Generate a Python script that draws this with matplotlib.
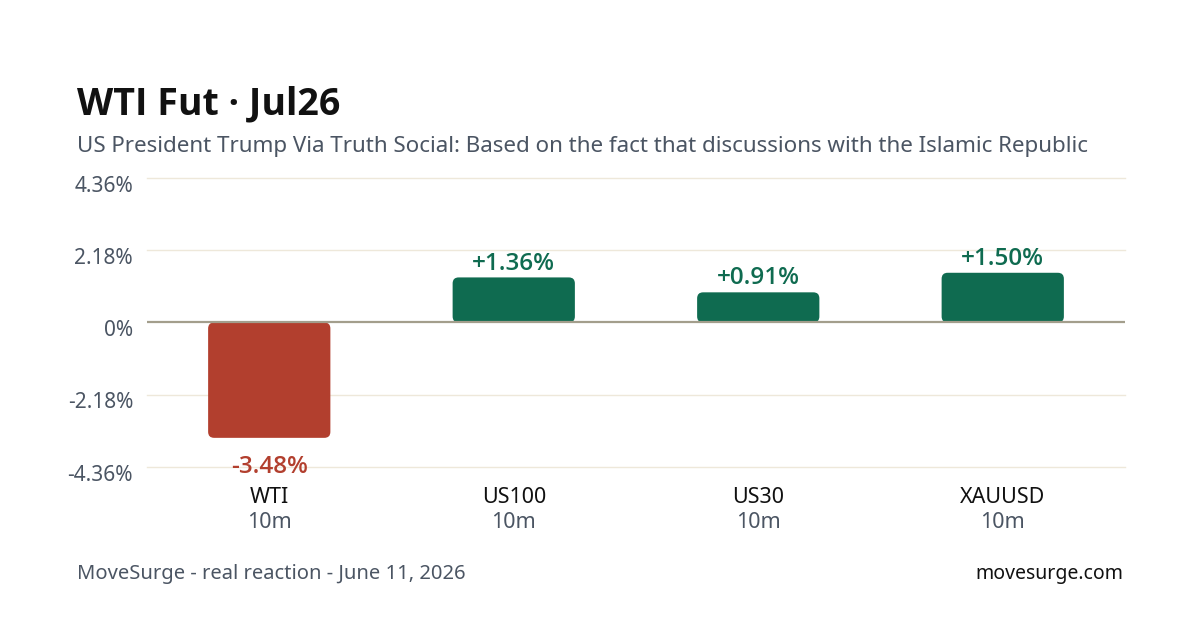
import numpy as np
import matplotlib.pyplot as plt
import matplotlib.transforms as mtransforms
from matplotlib.patches import FancyBboxPatch

# data
symbols = ["WTI", "US100", "US30", "XAUUSD"]
windows = ["10m", "10m", "10m", "10m"]
changes = [-3.48, 1.36, 0.91, 1.50]
ticks = [-4.36, -2.18, 0.0, 2.18, 4.36]
tick_labels = ["-4.36%", "-2.18%", "0%", "2.18%", "4.36%"]

title = "WTI Fut \u00b7 Jul26"
subtitle = "US President Trump Via Truth Social: Based on the fact that discussions with the Islamic Republic"
footer_left = "MoveSurge - real reaction - June 11, 2026"
footer_right = "movesurge.com"

RED = "#B23F2E"
GREEN = "#0F6B50"
DARK = "#111111"
GRAY = "#4B5563"
BOLD_FAMILY = ['Open Sans', 'DejaVu Sans']

plt.rcParams['font.family'] = ['Noto Sans', 'DejaVu Sans']

fig = plt.figure(figsize=(12, 6.3), dpi=100)
fig.patch.set_facecolor("white")
ax = fig.add_axes([0.1225, 0.2587, 0.815, 0.4588])

x = np.arange(len(symbols))
colors = [GREEN if v >= 0 else RED for v in changes]
bars = ax.bar(x, changes, width=0.5, color=colors)

ax.set_xlim(-0.5, len(symbols) - 0.5)
ax.set_ylim(ticks[0], ticks[-1])

# rounded bars: swap each rectangle for a rounded box of the same bounds
fig_w, fig_h = fig.get_size_inches() * fig.dpi
px_x = 0.815 * fig_w / (len(symbols))
px_y = 0.4588 * fig_h / (ticks[-1] - ticks[0])
radius_px = 6
for rect in bars:
    rect.set_visible(False)
    rx, ry = rect.get_x(), rect.get_y()
    rw, rh = rect.get_width(), rect.get_height()
    if rh < 0:
        ry, rh = ry + rh, -rh
    box = FancyBboxPatch((rx, ry), rw, rh,
                         boxstyle="round,pad=0,rounding_size=%f" % (radius_px / px_x),
                         mutation_aspect=px_x / px_y,
                         facecolor=rect.get_facecolor(), edgecolor="none", zorder=3)
    ax.add_patch(box)

# value labels
for xi, v, c in zip(x, changes, colors):
    txt = ("+%.2f%%" % v) if v >= 0 else ("%.2f%%" % v)
    off = 10 if v >= 0 else -21
    ax.annotate(txt, (xi, v), xytext=(0, off), textcoords="offset points",
                ha="center", va="center", fontsize=17.5, fontweight="semibold",
                color=c, family=BOLD_FAMILY)

# grid
for t in ticks:
    if t == 0:
        ax.axhline(t, color="#A39E8C", lw=1.6, zorder=4)
    else:
        ax.axhline(t, color="#EEE8DA", lw=1.0, zorder=0, clip_on=False)

ax.set_yticks(ticks)
ax.set_yticklabels(tick_labels, fontsize=15, color=GRAY)
ax.tick_params(axis="y", length=0, pad=10)
shift = mtransforms.ScaledTranslation(0, -4 / 72, fig.dpi_scale_trans)
for lab in ax.get_yticklabels():
    lab.set_transform(lab.get_transform() + shift)
ax.set_xticks([])
for s in ax.spines.values():
    s.set_visible(False)

# category labels
for xi, sym, w in zip(x, symbols, windows):
    ax.annotate(sym, (xi, ticks[0]), xytext=(0, -21.6), textcoords="offset points",
                ha="center", va="center", fontsize=15.5, color=DARK)
    ax.annotate(w, (xi, ticks[0]), xytext=(0, -40.3), textcoords="offset points",
                ha="center", va="center", fontsize=15.5, color=GRAY)

fig.text(77 / 1200, 1 - 104 / 630, title, fontsize=27, fontweight="bold",
         color=DARK, va="center", ha="left", family=BOLD_FAMILY)
fig.text(77 / 1200, 1 - 146 / 630, subtitle, fontsize=16.1, color=GRAY,
         va="center", ha="left")
fig.text(77 / 1200, 1 - 574 / 630, footer_left, fontsize=14.5, color=GRAY,
         va="center", ha="left")
fig.text(1123 / 1200, 1 - 574 / 630, footer_right, fontsize=14, color=DARK,
         va="center", ha="right")

fig.savefig("out.png", dpi=100, facecolor="white")
